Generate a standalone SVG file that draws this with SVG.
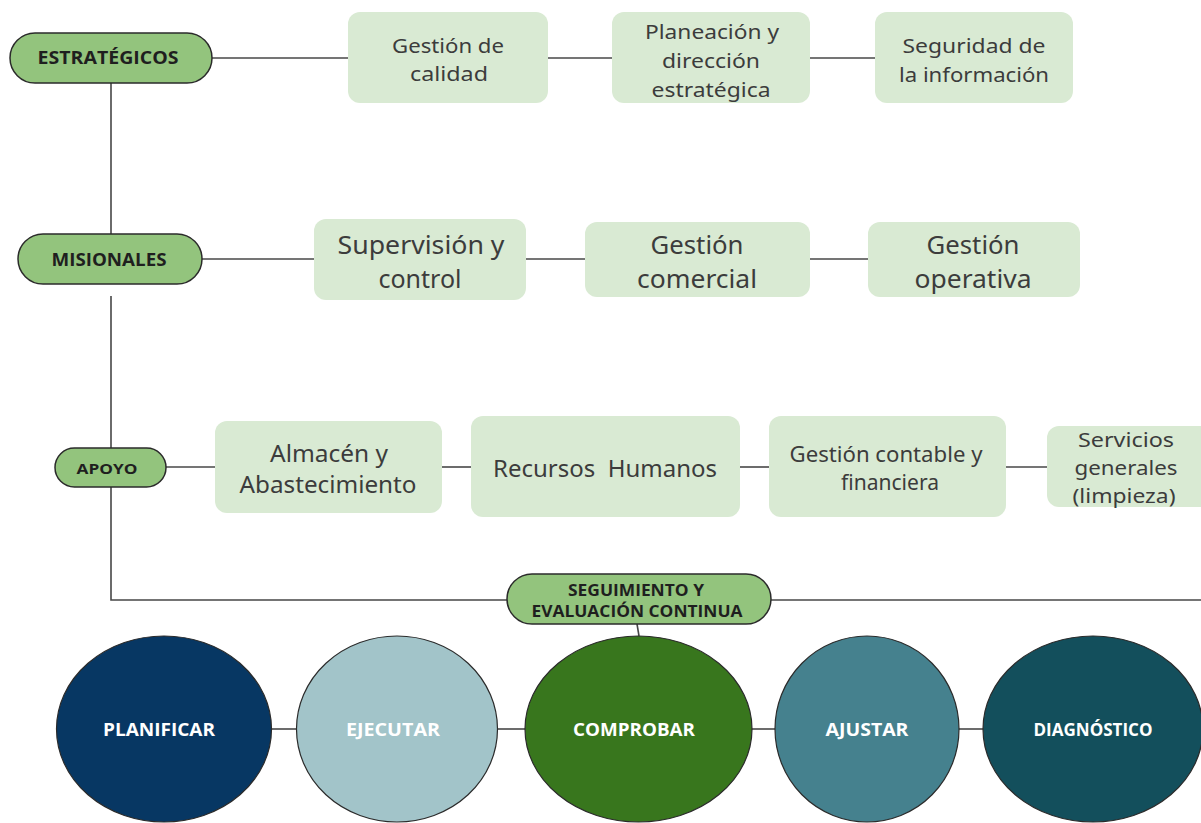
<svg xmlns="http://www.w3.org/2000/svg" width="1201" height="823" viewBox="0 0 1201 823">
<style>
.pill{fill:#93c47d;stroke:#2b2b2b;stroke-width:1.5}
.pt{font-family:"Open Sans","Liberation Sans",sans-serif;font-weight:bold;fill:#1f1f1f;text-anchor:middle}
.box{fill:#d9ead3}
.bt{font-family:"Noto Sans","Open Sans","Liberation Sans",sans-serif;fill:#3c3c3c;text-anchor:middle}
.circ{stroke:#2b2b2b;stroke-width:1.2}
.ct{font-family:"Open Sans","Liberation Sans",sans-serif;font-weight:bold;font-size:17px;fill:#ffffff;text-anchor:middle}
.ln{stroke:#474747;stroke-width:1.6;fill:none}
</style>
<rect width="1201" height="823" fill="#ffffff"/>
<g id="connectors">
<line class="ln" x1="111" y1="83" x2="111" y2="234"/>
<line class="ln" x1="111" y1="296" x2="111" y2="448"/>
<polyline class="ln" points="111,487 111,600 507,600"/>
<line class="ln" x1="771" y1="600" x2="1201" y2="600"/>
<line class="ln" x1="637" y1="624" x2="639" y2="636"/>
<line class="ln" x1="212" y1="58" x2="348" y2="58"/>
<line class="ln" x1="548" y1="58" x2="612" y2="58"/>
<line class="ln" x1="810" y1="58" x2="875" y2="58"/>
<line class="ln" x1="202" y1="259" x2="314" y2="259"/>
<line class="ln" x1="526" y1="259" x2="585" y2="259"/>
<line class="ln" x1="810" y1="259" x2="868" y2="259"/>
<line class="ln" x1="166" y1="467" x2="215" y2="467"/>
<line class="ln" x1="442" y1="467" x2="471" y2="467"/>
<line class="ln" x1="740" y1="467" x2="769" y2="467"/>
<line class="ln" x1="1006" y1="467" x2="1047" y2="467"/>
<line class="ln" x1="272" y1="729" x2="297" y2="729"/>
<line class="ln" x1="497" y1="729" x2="525" y2="729"/>
<line class="ln" x1="752" y1="729" x2="775" y2="729"/>
<line class="ln" x1="959" y1="729" x2="983" y2="729"/>
</g>
<g id="estrategicos">
<rect class="pill" x="10" y="33" width="202" height="50" rx="25"/>
<text class="pt" x="108" y="64" font-size="17" textLength="141" lengthAdjust="spacingAndGlyphs">ESTRATÉGICOS</text>
</g>
<g id="gestion-calidad">
<rect class="box" x="348" y="12" width="200" height="91" rx="12"/>
<text class="bt" x="448" y="53" font-size="20" textLength="112" lengthAdjust="spacingAndGlyphs">Gestión de</text>
<text class="bt" x="449" y="81" font-size="20" textLength="78" lengthAdjust="spacingAndGlyphs">calidad</text>
</g>
<g id="planeacion">
<rect class="box" x="612" y="12" width="198" height="91" rx="12"/>
<text class="bt" x="712" y="39" font-size="20" textLength="134" lengthAdjust="spacingAndGlyphs">Planeación y</text>
<text class="bt" x="711" y="68" font-size="20" textLength="98" lengthAdjust="spacingAndGlyphs">dirección</text>
<text class="bt" x="711" y="97" font-size="20" textLength="119" lengthAdjust="spacingAndGlyphs">estratégica</text>
</g>
<g id="seguridad">
<rect class="box" x="875" y="12" width="198" height="91" rx="12"/>
<text class="bt" x="974" y="53" font-size="20" textLength="143" lengthAdjust="spacingAndGlyphs">Seguridad de</text>
<text class="bt" x="974" y="82" font-size="20" textLength="150" lengthAdjust="spacingAndGlyphs">la información</text>
</g>
<g id="misionales">
<rect class="pill" x="18" y="234" width="184" height="50" rx="25"/>
<text class="pt" x="109" y="266" font-size="17" textLength="115" lengthAdjust="spacingAndGlyphs">MISIONALES</text>
</g>
<g id="supervision">
<rect class="box" x="314" y="219" width="212" height="81" rx="12"/>
<text class="bt" x="421" y="254" font-size="25" textLength="167" lengthAdjust="spacingAndGlyphs">Supervisión y</text>
<text class="bt" x="420" y="288" font-size="25" textLength="83" lengthAdjust="spacingAndGlyphs">control</text>
</g>
<g id="gestion-comercial">
<rect class="box" x="585" y="222" width="225" height="75" rx="12"/>
<text class="bt" x="697" y="254" font-size="25" textLength="93" lengthAdjust="spacingAndGlyphs">Gestión</text>
<text class="bt" x="697" y="288" font-size="25" textLength="120" lengthAdjust="spacingAndGlyphs">comercial</text>
</g>
<g id="gestion-operativa">
<rect class="box" x="868" y="222" width="212" height="75" rx="12"/>
<text class="bt" x="973" y="254" font-size="25" textLength="93" lengthAdjust="spacingAndGlyphs">Gestión</text>
<text class="bt" x="973" y="288" font-size="25" textLength="117" lengthAdjust="spacingAndGlyphs">operativa</text>
</g>
<g id="apoyo">
<rect class="pill" x="55" y="448" width="111" height="39" rx="19.5"/>
<text class="pt" x="107" y="474" font-size="15" textLength="61" lengthAdjust="spacingAndGlyphs">APOYO</text>
</g>
<g id="almacen">
<rect class="box" x="215" y="421" width="227" height="92" rx="12"/>
<text class="bt" x="329" y="462" font-size="23" textLength="118" lengthAdjust="spacingAndGlyphs">Almacén y</text>
<text class="bt" x="328" y="493" font-size="23" textLength="177" lengthAdjust="spacingAndGlyphs">Abastecimiento</text>
</g>
<g id="recursos-humanos">
<rect class="box" x="471" y="416" width="269" height="101" rx="12"/>
<text class="bt" x="605" y="477" font-size="23" textLength="224" lengthAdjust="spacingAndGlyphs" xml:space="preserve">Recursos  Humanos</text>
</g>
<g id="gestion-contable">
<rect class="box" x="769" y="416" width="237" height="101" rx="12"/>
<text class="bt" x="886" y="462" font-size="21" textLength="193" lengthAdjust="spacingAndGlyphs">Gestión contable y</text>
<text class="bt" x="890" y="490" font-size="21" textLength="98" lengthAdjust="spacingAndGlyphs">financiera</text>
</g>
<g id="servicios">
<rect class="box" x="1047" y="426" width="165" height="81" rx="12"/>
<text class="bt" x="1126" y="447" font-size="20" textLength="96" lengthAdjust="spacingAndGlyphs">Servicios</text>
<text class="bt" x="1126" y="475" font-size="20" textLength="103" lengthAdjust="spacingAndGlyphs">generales</text>
<text class="bt" x="1124" y="503" font-size="20" textLength="103" lengthAdjust="spacingAndGlyphs">(limpieza)</text>
</g>
<g id="seguimiento">
<rect class="pill" x="507" y="574" width="264" height="50" rx="25"/>
<text class="pt" x="636" y="596" font-size="16" textLength="136" lengthAdjust="spacingAndGlyphs">SEGUIMIENTO Y</text>
<text class="pt" x="637" y="617" font-size="16" textLength="211" lengthAdjust="spacingAndGlyphs">EVALUACIÓN CONTINUA</text>
</g>
<g id="planificar">
<ellipse class="circ" cx="164" cy="729" rx="107.5" ry="93" fill="#073763"/>
<text class="ct" x="159" y="736" textLength="112" lengthAdjust="spacingAndGlyphs">PLANIFICAR</text>
</g>
<g id="ejecutar">
<ellipse class="circ" cx="397" cy="729" rx="100.5" ry="93" fill="#a2c4c9"/>
<text class="ct" x="393" y="736" fill="#eeeeee" textLength="94" lengthAdjust="spacingAndGlyphs">EJECUTAR</text>
</g>
<g id="comprobar">
<ellipse class="circ" cx="638.5" cy="729" rx="113.5" ry="93" fill="#38761d"/>
<text class="ct" x="634" y="736" textLength="122" lengthAdjust="spacingAndGlyphs">COMPROBAR</text>
</g>
<g id="ajustar">
<ellipse class="circ" cx="867" cy="729" rx="92" ry="93" fill="#45818e"/>
<text class="ct" x="867" y="736" textLength="83" lengthAdjust="spacingAndGlyphs">AJUSTAR</text>
</g>
<g id="diagnostico">
<ellipse class="circ" cx="1093" cy="729" rx="110" ry="93" fill="#134f5c"/>
<text class="ct" x="1093" y="736" textLength="119" lengthAdjust="spacingAndGlyphs">DIAGNÓSTICO</text>
</g>
</svg>
